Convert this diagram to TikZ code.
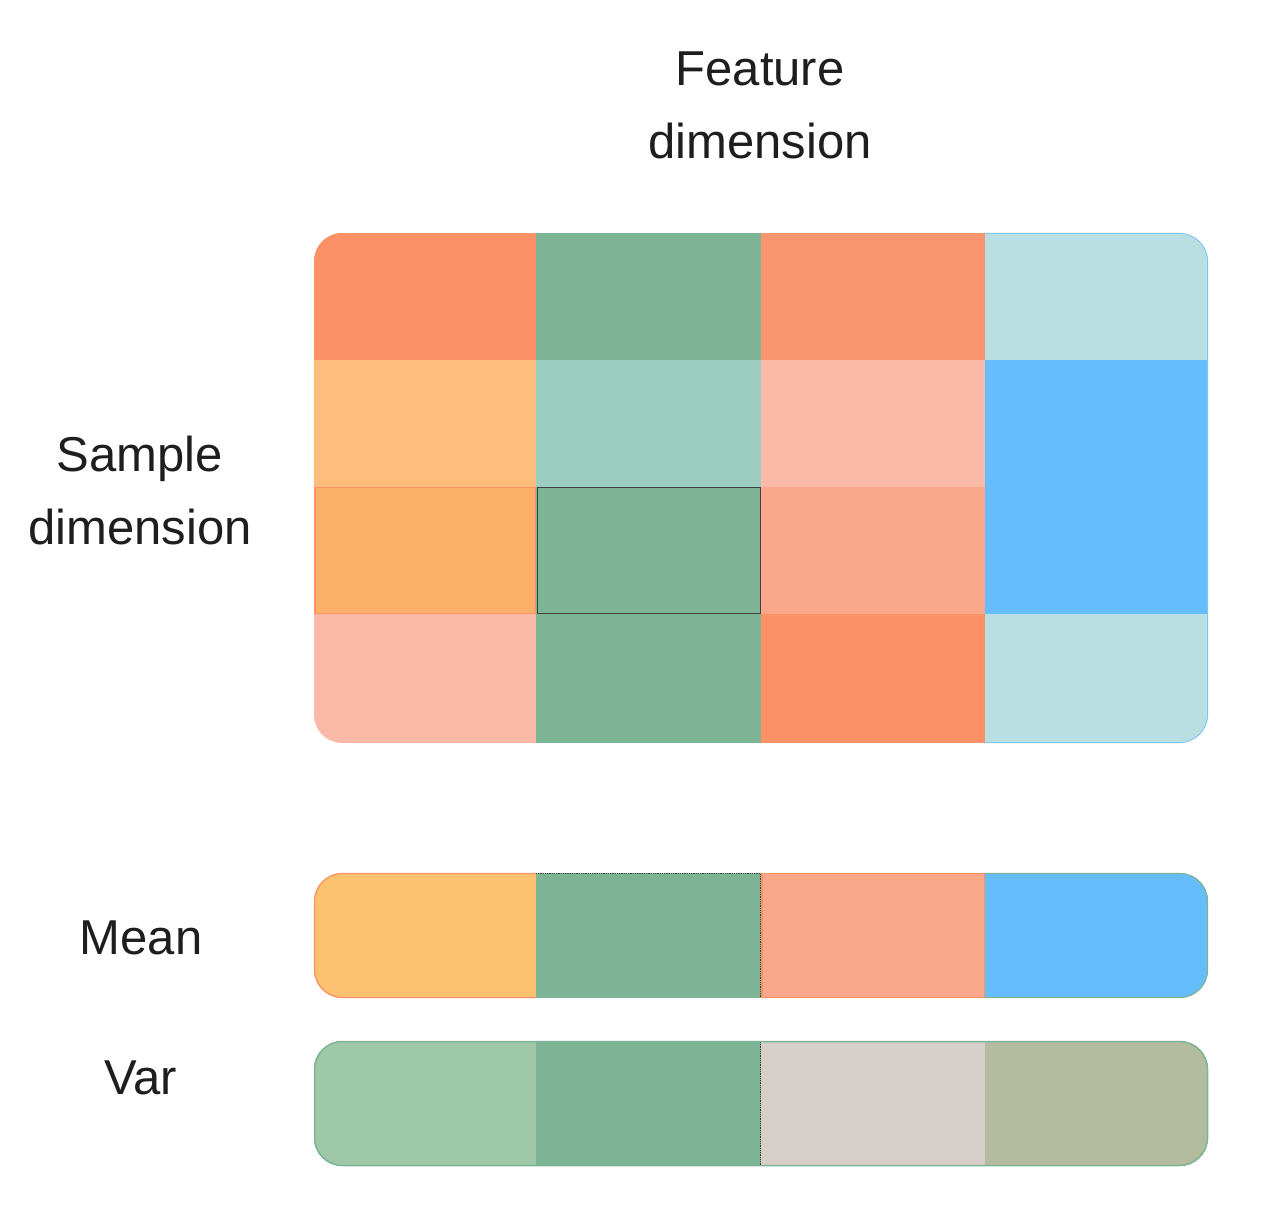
\documentclass[tikz,border=0pt]{standalone}
\usepackage{fontspec}
\setmainfont{Liberation Sans}
\definecolor{cO}{RGB}{252,144,102}
\definecolor{cOd}{RGB}{249,150,112}
\definecolor{cG}{RGB}{125,180,149}
\definecolor{cLB}{RGB}{185,223,227}
\definecolor{cY}{RGB}{252,194,112}
\definecolor{cYP}{RGB}{253,190,125}
\definecolor{cGL}{RGB}{156,206,192}
\definecolor{cP}{RGB}{251,186,168}
\definecolor{cB}{RGB}{101,189,252}
\definecolor{cOY}{RGB}{253,176,106}
\definecolor{cOP}{RGB}{251,167,137}
\definecolor{cGP}{RGB}{158,200,168}
\definecolor{cPL}{RGB}{214,206,200}
\definecolor{cGP2}{RGB}{180,188,160}
\definecolor{txt}{RGB}{30,30,30}
\tikzset{
  lbl/.style={font=\fontsize{49}{73}\selectfont, text=txt, align=center, inner sep=0pt},
  darkedge/.style={draw=black!75, line width=0.8pt},
}
\begin{document}
\begin{tikzpicture}[x=1pt,y=-1pt]
\useasboundingbox (0,0) rectangle (1272,1230);
% main grid
\begin{scope}
\clip[rounded corners=28pt] (314,233) rectangle (1208,743);
\fill[cO]  (314,233) rectangle (536,360);
\fill[cG]  (536,233) rectangle (761,360);
\fill[cOd] (761,233) rectangle (985,360);
\fill[cLB] (985,233) rectangle (1208,360);
\fill[cYP] (314,360) rectangle (536,487);
\fill[cGL] (536,360) rectangle (761,487);
\fill[cP]  (761,360) rectangle (985,487);
\fill[cB]  (985,360) rectangle (1208,487);
\fill[cOY] (314,487) rectangle (536,614);
\fill[cG]  (536,487) rectangle (761,614);
\fill[cOP] (761,487) rectangle (985,614);
\fill[cB]  (985,487) rectangle (1208,614);
\fill[cP]  (314,614) rectangle (536,743);
\fill[cG]  (536,614) rectangle (761,743);
\fill[cO]  (761,614) rectangle (985,743);
\fill[cLB] (985,614) rectangle (1208,743);
\draw[cO, line width=1.2pt] (315,487.5) rectangle (535.5,613.5);
\draw[darkedge] (537,487.5) rectangle (760.5,613.5);
\end{scope}
\draw[cB!70!cLB, line width=0.8pt, rounded corners=28pt] (985,233.4) -- (1207.6,233.4) -- (1207.6,742.6) -- (985,742.6);
% mean bar
\begin{scope}
\clip[rounded corners=28pt] (314,873) rectangle (1208,998);
\fill[cY]  (314,873) rectangle (536,998);
\fill[cG]  (536,873) rectangle (761,998);
\fill[cOP] (761,873) rectangle (985,998);
\fill[cB]  (985,873) rectangle (1208,998);
\draw[darkedge, densely dotted] (536,873.5) -- (760.5,873.5) -- (760.5,998);
\draw[cO, line width=1.5pt] (762,873.5) rectangle (984.5,997.5);
\end{scope}
\draw[cO, line width=1.2pt, rounded corners=28pt] (536,873.5) -- (314.5,873.5) -- (314.5,997.5) -- (536,997.5);
\draw[cG, line width=1.2pt, rounded corners=28pt] (985,873.5) -- (1207.5,873.5) -- (1207.5,997.5) -- (985,997.5);
% var bar
\begin{scope}
\clip[rounded corners=28pt] (314,1041) rectangle (1208,1166);
\fill[cGP]  (314,1041) rectangle (536,1166);
\fill[cG]   (536,1041) rectangle (761,1166);
\fill[cPL]  (761,1041) rectangle (985,1166);
\fill[cGP2] (985,1041) rectangle (1208,1166);
\draw[darkedge, densely dotted] (536,1041.5) -- (760.5,1041.5) -- (760.5,1165.5) -- (536,1165.5);
\end{scope}
\draw[cG, line width=1.5pt, rounded corners=28pt] (314.5,1041.5) rectangle (1207.5,1165.5);
% labels
\node[lbl] (feat) at (760,105) {Feature\\dimension};
\node[lbl] (samp) at (140,490) {Sample\\dimension};
\node[lbl] (mean) at (141,938) {Mean};
\node[lbl] (var)  at (141,1078) {Var};
\end{tikzpicture}
\end{document}
